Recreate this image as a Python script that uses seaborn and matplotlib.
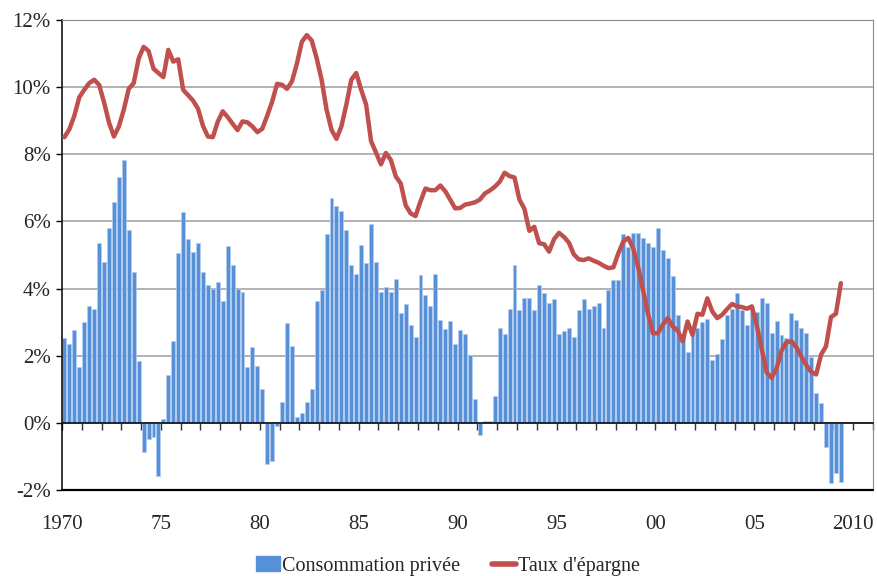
import numpy as np
import pandas as pd
import matplotlib
matplotlib.use("Agg")
import matplotlib.pyplot as plt
import matplotlib.ticker as mticker
from matplotlib.patches import Patch
from matplotlib.lines import Line2D
import seaborn as sns

# quarterly data, 1970Q1 - 2009Q2
start_year = 1970
consommation = [
    2.54, 2.36, 2.77, 1.67, 2.99, 3.47, 3.38, 5.37, 4.78, 5.81, 6.58, 7.31,
    7.82, 5.75, 4.50, 1.83, -0.87, -0.49, -0.43, -1.58, 0.12, 1.42, 2.44, 5.06,
    6.28, 5.48, 5.09, 5.37, 4.49, 4.10, 4.00, 4.20, 3.62, 5.26, 4.70, 3.99,
    3.90, 1.67, 2.25, 1.69, 1.01, -1.22, -1.15, -0.09, 0.63, 2.96, 2.28, 0.18,
    0.29, 0.63, 1.01, 3.63, 3.96, 5.64, 6.69, 6.45, 6.31, 5.73, 4.70, 4.43,
    5.29, 4.76, 5.92, 4.78, 3.90, 4.05, 3.90, 4.29, 3.27, 3.54, 2.91, 2.55,
    4.41, 3.80, 3.47, 4.43, 3.07, 2.80, 3.04, 2.36, 2.77, 2.66, 2.01, 0.70,
    -0.37, 0.06, 0.06, 0.81, 2.82, 2.66, 3.38, 4.70, 3.35, 3.71, 3.71, 3.35,
    4.10, 3.87, 3.56, 3.68, 2.66, 2.74, 2.82, 2.55, 3.35, 3.68, 3.38, 3.49,
    3.56, 2.82, 3.95, 4.27, 4.27, 5.64, 5.25, 5.67, 5.67, 5.50, 5.35, 5.25,
    5.81, 5.15, 4.92, 4.37, 3.21, 2.55, 2.10, 2.65, 2.82, 3.00, 3.10, 1.88,
    2.05, 2.50, 3.21, 3.39, 3.86, 3.35, 2.92, 3.45, 3.31, 3.73, 3.58, 2.68,
    3.04, 2.63, 2.52, 3.26, 3.06, 2.82, 2.67, 1.97, 0.88, 0.60, -0.73, -1.80,
    -1.50, -1.76,
]
epargne = [
    8.51, 8.75, 9.15, 9.70, 9.92, 10.12, 10.22, 10.07, 9.55, 8.95, 8.53, 8.83,
    9.33, 9.95, 10.12, 10.85, 11.20, 11.08, 10.55, 10.42, 10.30, 11.11, 10.76, 10.83,
    9.92, 9.76, 9.60, 9.36, 8.85, 8.53, 8.51, 8.97, 9.28, 9.11, 8.91, 8.72,
    8.98, 8.95, 8.83, 8.66, 8.76, 9.15, 9.57, 10.10, 10.07, 9.95, 10.17, 10.70,
    11.35, 11.55, 11.39, 10.86, 10.22, 9.33, 8.73, 8.46, 8.83, 9.48, 10.22, 10.42,
    9.92, 9.48, 8.39, 8.05, 7.70, 8.04, 7.83, 7.34, 7.13, 6.48, 6.24, 6.16,
    6.60, 6.98, 6.93, 6.93, 7.07, 6.90, 6.65, 6.39, 6.40, 6.50, 6.53, 6.57,
    6.65, 6.83, 6.92, 7.03, 7.18, 7.45, 7.35, 7.31, 6.65, 6.38, 5.72, 5.84,
    5.35, 5.32, 5.10, 5.47, 5.66, 5.54, 5.37, 5.02, 4.87, 4.85, 4.90, 4.83,
    4.77, 4.68, 4.61, 4.63, 5.05, 5.40, 5.51, 5.20, 4.65, 3.95, 3.25, 2.67,
    2.67, 2.92, 3.12, 2.87, 2.75, 2.43, 3.02, 2.62, 3.25, 3.22, 3.71, 3.32,
    3.12, 3.22, 3.39, 3.54, 3.47, 3.45, 3.40, 3.47, 2.90, 2.20, 1.50, 1.34,
    1.62, 2.15, 2.40, 2.43, 2.25, 1.98, 1.72, 1.52, 1.44, 2.03, 2.28, 3.15,
    3.25, 4.16,
]
year_labels = ["1970", "75", "80", "85", "90", "95", "00", "05", "2010"]
legend_labels = ["Consommation privée", "Taux d'épargne"]

bar_color = "#5690D8"
line_color = "#C0504D"

sns.set_style("white")
plt.rcParams["font.family"] = ["Liberation Serif", "DejaVu Serif"]

df = pd.DataFrame({
    "t": start_year + (np.arange(len(consommation)) + 0.5) / 4,
    "conso": consommation,
    "epargne": epargne,
})

fig = plt.figure(figsize=(8.77, 5.76), dpi=100)
ax = fig.add_axes([62 / 877, 1 - 490 / 576, 811 / 877, 470 / 576])

sns.barplot(data=df, x="t", y="conso", native_scale=True, color=bar_color,
            width=0.8, edgecolor="#B4CDF0", linewidth=0.5, errorbar=None,
            saturation=1, ax=ax, zorder=2)
sns.lineplot(data=df, x="t", y="epargne", color=line_color, linewidth=3.2,
             ax=ax, zorder=4)

ax.set_xlim(1970, 2011)
ax.set_ylim(-2, 12)
ax.set_xlabel("")
ax.set_ylabel("")

# y axis
ax.yaxis.set_major_locator(mticker.MultipleLocator(2))
ax.yaxis.set_major_formatter(mticker.FuncFormatter(lambda v, p: f"{v:.0f}%"))
ax.tick_params(axis="y", direction="out", length=4, width=1, color="black",
               labelsize=15, pad=4, left=True)
ax.grid(axis="y", color="#A6A6A6", linewidth=1.2, zorder=0)
ax.set_axisbelow(True)

# x axis sits on the zero line, labels at the bottom
ax.spines["bottom"].set_position(("data", 0))
ax.spines["bottom"].set_color("black")
ax.spines["bottom"].set_linewidth(1.1)
ax.spines["bottom"].set_zorder(3)
ax.xaxis.set_major_locator(mticker.FixedLocator(range(1970, 2011, 5)))
ax.xaxis.set_major_formatter(mticker.FixedFormatter(year_labels))
ax.xaxis.set_minor_locator(mticker.MultipleLocator(1))
ax.tick_params(axis="x", which="both", direction="out", length=5, width=1,
               color="#333333", bottom=True, labelsize=15, pad=61)
ax.axhline(-2, color="black", linewidth=1.6, zorder=3, clip_on=False)
ax.spines["left"].set_color("black")
ax.spines["left"].set_linewidth(1.1)
ax.spines["right"].set_color("#8C8C8C")
ax.spines["top"].set_color("#8C8C8C")

handles = [
    Patch(facecolor=bar_color, edgecolor=bar_color),
    Line2D([0], [0], color=line_color, linewidth=4),
]
fig.legend(handles, legend_labels, loc="center", ncol=2, frameon=False,
           bbox_to_anchor=(448 / 877, 1 - 566 / 576), fontsize=14.5,
           handlelength=1.2, handleheight=0.7, handletextpad=0.1,
           columnspacing=1.6)

fig.savefig("out.png", dpi=100)
